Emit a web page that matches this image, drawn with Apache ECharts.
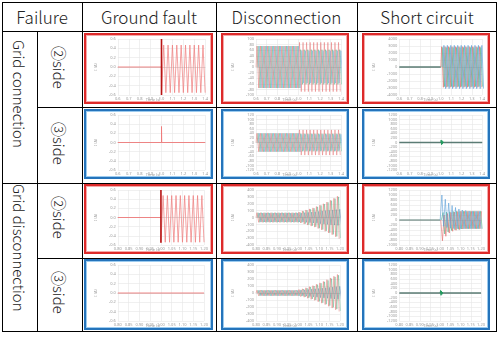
<!DOCTYPE html>
<html>
<head>
<meta charset="utf-8">
<script src="https://cdn.jsdelivr.net/npm/echarts@6/dist/echarts.min.js"></script>
<style>
body{margin:0;width:500px;height:353px;background:#fff;position:relative;overflow:hidden;font-family:"Noto Sans CJK JP","Noto Sans",sans-serif;font-weight:300;color:#222}
.ln{position:absolute;background:#000}
.frame{position:absolute;left:2px;top:2px;width:495px;height:330px;box-sizing:border-box;border:1.5px solid #000}
.hd{position:absolute;top:2px;height:29px;line-height:29px;text-align:center;font-size:17px;white-space:nowrap}
.vt{position:absolute;writing-mode:vertical-rl;text-orientation:sideways;white-space:nowrap;font-size:15px}
.side{position:absolute;left:37px;width:45px;line-height:45px;writing-mode:vertical-rl;text-orientation:sideways;text-align:center;font-size:15px;white-space:nowrap}
.box{position:absolute;box-sizing:border-box;border:2px solid;background:#fff}
.red{border-color:#dd2a2a;box-shadow:inset 0 0 0 1px #f5a9a9}
.blue{border-color:#2574bb;box-shadow:inset 0 0 0 1px #9ccbef}
.box .ch{position:absolute;left:0;top:0}
</style>
</head>
<body>
<div class="frame"></div>
<div class="ln" style="left:2px;top:31px;width:495px;height:1px"></div>
<div class="ln" style="left:37px;top:107px;width:460px;height:1px"></div>
<div class="ln" style="left:2px;top:183px;width:495px;height:1px"></div>
<div class="ln" style="left:37px;top:258px;width:460px;height:1px"></div>
<div class="ln" style="left:37px;top:31px;width:1px;height:301px"></div>
<div class="ln" style="left:82px;top:2px;width:1px;height:330px"></div>
<div class="ln" style="left:216px;top:2px;width:1px;height:330px"></div>
<div class="ln" style="left:357px;top:2px;width:1px;height:330px"></div>

<div class="hd" style="left:2px;width:80px">Failure</div>
<div class="hd" style="left:82px;width:134px">Ground fault</div>
<div class="hd" style="left:216px;width:141px">Disconnection</div>
<div class="hd" style="left:357px;width:140px">Short circuit</div>

<div class="vt" style="left:2px;width:35px;line-height:35px;top:40px">Grid connection</div>
<div class="vt" style="left:2px;width:35px;line-height:35px;top:184px">Grid disconnection</div>
<div class="side" style="top:29px;height:76px">②side</div>
<div class="side" style="top:105px;height:76px">③side</div>
<div class="side" style="top:180px;height:75px">②side</div>
<div class="side" style="top:255px;height:74px">③side</div>

<div id="cells"></div>

<script>
// ---------- tick labels ----------
var xTicksGC = [0.6, 0.7, 0.8, 0.9, 1.0, 1.1, 1.2, 1.3, 1.4];
var xTicksGD = [0.8, 0.85, 0.9, 0.95, 1.0, 1.05, 1.1, 1.15, 1.2];
var yTicksGround = [-0.6, -0.4, -0.2, 0, 0.2, 0.4, 0.6];
var yTicksDiscGC2 = [-100, -80, -60, -40, -20, 0, 20, 40, 60, 80, 100];
var yTicksDiscGC3 = [-120, -100, -80, -60, -40, -20, 0, 20, 40, 60, 80, 100, 120];
var yTicksDiscGD = [-400, -300, -200, -100, 0, 100, 200, 300, 400];
var yTicksShortGC2 = [-4000, -3000, -2000, -1000, 0, 1000, 2000, 3000, 4000];
var yTicksShort3 = [-1200, -1000, -800, -600, -400, -200, 0, 200, 400, 600, 800, 1000, 1200];
var yTicksShortGD2 = [-1000, -800, -600, -400, -200, 0, 200, 400, 600, 800, 1000, 1200];

// ---------- ground fault ----------
// grid connection, 2 side: flat, fault at 1.0 s, then peaks every 0.02 s
var gfGc2Flat = [[0.6, 0], [1.0, 0]];
var gfGc2Spike = [[1.0, 0], [1.0, 0.6], [1.0, -0.6]];
var gfGc2Peaks = [-0.6, 0.47, -0.55, 0.47, -0.55, 0.47, -0.55, 0.47, -0.55, 0.47, -0.55,
  0.47, -0.55, 0.47, -0.55, 0.47, -0.55, 0.47, -0.55, 0.47, -0.55];
// grid connection, 3 side: single spike
var gfGc3Line = [[0.6, 0], [1.0, 0], [1.0, 0.35], [1.002, 0], [1.4, 0]];
// grid disconnection, 2 side: peaks every 0.01 s after 1.0 s
var gfGd2Flat = [[0.8, 0], [1.0, 0]];
var gfGd2Spike = [[1.0, 0], [1.0, 0.6], [1.0, -0.55]];
var gfGd2Peaks = [-0.55, 0.48, -0.54, 0.48, -0.54, 0.48, -0.54, 0.48, -0.54, 0.48, -0.54,
  0.48, -0.54, 0.48, -0.54, 0.48, -0.54, 0.48, -0.54, 0.48, -0.54];
// grid disconnection, 3 side: flat
var gfGd3Line = [[0.8, 0], [1.2, 0]];

// ---------- disconnection (peak amplitude per cycle, 24 cycles) ----------
var discGc2Red   = [75,75,75,75,75,75,75,75,75,75,75,75, 88,88,88,88,88,88,88,88,88,88,88,88];
var discGc2Green = [75,75,75,75,75,75,75,75,75,75,75,75, 62,62,62,62,62,62,62,62,62,62,62,62];
var discGc2Blue  = [75,75,75,75,75,75,75,75,75,75,75,75, 58,58,58,58,58,58,58,58,58,58,58,58];
var discGc3Red   = [40,40,40,40,40,40,40,40,40,40,40,40, 55,55,55,55,55,55,55,55,55,55,55,55];
var discGc3Green = [40,40,40,40,40,40,40,40,40,40,40,40, 38,38,38,38,38,38,38,38,38,38,38,38];
var discGc3Blue  = [40,40,40,40,40,40,40,40,40,40,40,40, 36,36,36,36,36,36,36,36,36,36,36,36];
var discGd2Red   = [70,70,70,70,70,70,70,70,70,70,70,70, 80,95,110,125,140,160,180,200,225,250,280,310];
var discGd2Green = [70,70,70,70,70,70,70,70,70,70,70,70, 75,90,105,120,135,155,175,195,220,245,275,300];
var discGd2Blue  = [65,65,65,65,65,65,65,65,65,65,65,65, 65,70,75,80,85,90,95,100,105,110,115,120];
var discGd3Red   = [40,40,40,40,40,40,40,40,40,40,40,40, 50,60,75,90,105,125,145,165,190,215,240,265];
var discGd3Green = [40,40,40,40,40,40,40,40,40,40,40,40, 45,55,70,85,100,120,140,160,180,205,230,255];
var discGd3Blue  = [38,38,38,38,38,38,38,38,38,38,38,38, 40,45,50,55,60,65,70,75,80,85,90,95];

// ---------- short circuit ----------
var scGc2Flat = [[0.6, 0], [1.0, 0]];
var scGc2Red   = [2900,2900,2900,2900,2900,2900,2900,2900,2900,2900,2900,2900];
var scGc2Green = [2800,2800,2800,2800,2800,2800,2800,2800,2800,2800,2800,2800];
var scGc2Blue  = [3100,3100,3100,3100,3100,3100,3100,3100,3100,3100,3100,3100];
var scGc3Flat = [[0.6, 0], [1.4, 0]];
var scBlip = [0, 110, -100, 80, -60, 40, -20, 0];
var scGd2Flat = [[0.8, 0], [1.0, 0]];
// half-cycle peaks after the fault (every 1/120 s)
var scGd2Blue  = [0, 1000, -250, 830, -300, 680, -330, 580, -340, 500, -350, 440, -350, 400,
  -350, 380, -350, 360, -350, 350, -350, 350, -350, 350, -350];
var scGd2Red   = [0, -830, 200, -650, 260, -520, 300, -450, 320, -410, 340, -380, 350, -360,
  350, -350, 350, -350, 350, -350, 350, -350, 350, -350, 350];
var scGd2Green = [0, 300, -560, 320, -480, 330, -420, 340, -390, 350, -370, 350, -360, 350,
  -350, 350, -350, 350, -350, 350, -350, 350, -350, 350, -350];
var scGd3Flat = [[0.8, 0], [1.2, 0]];

// ---------- helpers ----------
function pts(t0, step, vals) {
  return vals.map(function (v, i) { return [t0 + i * step, v]; });
}
function cyc(t0, period, amps) {
  var out = [[t0, 0]];
  amps.forEach(function (a, i) {
    out.push([t0 + i * period + period / 4, a]);
    out.push([t0 + i * period + period * 3 / 4, -a]);
  });
  return out;
}

var RED = '#e46868', GREEN = '#4fb487', BLUE = '#5a9fd8', PINK = '#ef7b7b', DARKRED = '#b81414', FLAT = '#5b7c75';
var pGC = 0.4 / 12, pGD = 0.2 / 12;
var THIN = 0.45;

var cells = [
  // row 1: grid connection, 2 side
  {box: 'red', xs: xTicksGC, ys: yTicksGround, xd: 1, yd: 1, series: [
    {data: gfGc2Flat, color: PINK, width: 0.9},
    {data: pts(1.0, 0.02, gfGc2Peaks), color: PINK, width: 0.7},
    {data: gfGc2Spike, color: DARKRED, width: 1.6}]},
  {box: 'red', xs: xTicksGC, ys: yTicksDiscGC2, xd: 1, yd: 0, series: [
    {data: cyc(0.6 + 2 * pGC / 3, pGC, discGc2Blue), color: BLUE, width: THIN},
    {data: cyc(0.6 + pGC / 3, pGC, discGc2Green), color: GREEN, width: THIN},
    {data: cyc(0.6, pGC, discGc2Red), color: RED, width: THIN}]},
  {box: 'red', xs: xTicksGC, ys: yTicksShortGC2, xd: 1, yd: 0, series: [
    {data: scGc2Flat, color: FLAT, width: 1.3},
    {data: cyc(1.0, pGC, scGc2Red), color: RED},
    {data: cyc(1.0 + pGC / 3, pGC, scGc2Green), color: GREEN},
    {data: cyc(1.0 + 2 * pGC / 3, pGC, scGc2Blue), color: BLUE}]},
  // row 2: grid connection, 3 side
  {box: 'blue', xs: xTicksGC, ys: yTicksGround, xd: 1, yd: 1, series: [
    {data: gfGc3Line, color: PINK, width: 0.9}]},
  {box: 'blue', xs: xTicksGC, ys: yTicksDiscGC3, xd: 1, yd: 0, series: [
    {data: cyc(0.6 + 2 * pGC / 3, pGC, discGc3Blue), color: BLUE, width: THIN},
    {data: cyc(0.6 + pGC / 3, pGC, discGc3Green), color: GREEN, width: THIN},
    {data: cyc(0.6, pGC, discGc3Red), color: RED, width: THIN}]},
  {box: 'blue', xs: xTicksGC, ys: yTicksShort3, xd: 1, yd: 0, series: [
    {data: scGc3Flat, color: FLAT, width: 1.3},
    {data: pts(1.0, 0.004, scBlip), color: '#1f9a5c', width: 0.9}]},
  // row 3: grid disconnection, 2 side
  {box: 'red', xs: xTicksGD, ys: yTicksGround, xd: 2, yd: 1, series: [
    {data: gfGd2Flat, color: PINK, width: 0.9},
    {data: pts(1.0, 0.01, gfGd2Peaks), color: PINK, width: 0.7},
    {data: gfGd2Spike, color: DARKRED, width: 1.6}]},
  {box: 'red', xs: xTicksGD, ys: yTicksDiscGD, xd: 2, yd: 0, series: [
    {data: cyc(0.8 + 2 * pGD / 3, pGD, discGd2Blue), color: '#4f7fae', width: THIN},
    {data: cyc(0.8 + pGD / 3, pGD, discGd2Green), color: GREEN, width: THIN},
    {data: cyc(0.8, pGD, discGd2Red), color: RED, width: THIN}]},
  {box: 'red', xs: xTicksGD, ys: yTicksShortGD2, xd: 2, yd: 0, series: [
    {data: scGd2Flat, color: FLAT, width: 1.1},
    {data: pts(1.0 + pGD / 3, pGD / 2, scGd2Green), color: GREEN},
    {data: pts(1.0 + pGD / 6, pGD / 2, scGd2Red), color: RED},
    {data: pts(1.0, pGD / 2, scGd2Blue), color: BLUE}]},
  // row 4: grid disconnection, 3 side
  {box: 'blue', xs: xTicksGD, ys: yTicksGround, xd: 2, yd: 1, series: [
    {data: gfGd3Line, color: PINK, width: 0.9}]},
  {box: 'blue', xs: xTicksGD, ys: yTicksDiscGD, xd: 2, yd: 0, series: [
    {data: cyc(0.8 + 2 * pGD / 3, pGD, discGd3Blue), color: '#4f7fae', width: THIN},
    {data: cyc(0.8 + pGD / 3, pGD, discGd3Green), color: GREEN, width: THIN},
    {data: cyc(0.8, pGD, discGd3Red), color: RED, width: THIN}]},
  {box: 'blue', xs: xTicksGD, ys: yTicksShort3, xd: 2, yd: 0, series: [
    {data: scGd3Flat, color: FLAT, width: 1.3},
    {data: pts(1.0, 0.002, scBlip), color: '#1f9a5c', width: 0.9}]}
];

// layout of the boxes inside the table
var colX = [84, 221, 362], colW = [129, 128, 128];
var rowY = [33, 109, 184, 259], rowH = [71, 70, 70, 71];

function step(arr) { return +(arr[1] - arr[0]).toFixed(4); }

var holder = document.getElementById('cells');
cells.forEach(function (c, i) {
  var r = Math.floor(i / 3), k = i % 3;
  var box = document.createElement('div');
  box.className = 'box ' + c.box;
  box.style.left = colX[k] + 'px';
  box.style.top = rowY[r] + 'px';
  box.style.width = colW[k] + 'px';
  box.style.height = rowH[r] + 'px';
  var el = document.createElement('div');
  el.className = 'ch';
  var w = colW[k] - 4, h = rowH[r] - 4;
  el.style.width = w + 'px';
  el.style.height = h + 'px';
  box.appendChild(el);
  holder.appendChild(box);

  var lbl = {fontSize: 4, color: '#9c9c9c', fontFamily: 'Noto Sans'};
  var chart = echarts.init(el, null, {renderer: 'canvas'});
  chart.setOption({
    animation: false,
    grid: {left: 14, right: 5, top: 4, bottom: 7},
    title: {
      text: 'Time (s)', left: 14 + (w - 19) / 2, bottom: 0, textAlign: 'center', padding: 0,
      textStyle: {fontSize: 4, color: '#9c9c9c', fontWeight: 'normal', fontFamily: 'Noto Sans'}
    },
    xAxis: {
      type: 'value', min: c.xs[0], max: c.xs[c.xs.length - 1], interval: step(c.xs),
      axisLine: {onZero: true, lineStyle: {color: '#cfcfcf', width: 0.6}},
      axisTick: {show: false},
      axisLabel: Object.assign({margin: 2, formatter: function (v) { return v.toFixed(c.xd); }}, lbl),
      splitLine: {lineStyle: {color: '#e6e6e6', width: 0.6}}
    },
    yAxis: {
      type: 'value', min: c.ys[0], max: c.ys[c.ys.length - 1], interval: step(c.ys),
      name: 'I (A)', nameLocation: 'middle', nameGap: 10, nameRotate: 90,
      nameTextStyle: lbl,
      axisLine: {show: false},
      axisTick: {show: false},
      axisLabel: Object.assign({margin: 2, formatter: function (v) { return v.toFixed(c.yd); }}, lbl),
      splitLine: {lineStyle: {color: '#e6e6e6', width: 0.6}}
    },
    series: c.series.map(function (s) {
      return {
        type: 'line', data: s.data, symbol: 'none', silent: true,
        lineStyle: {color: s.color, width: s.width || 0.6}
      };
    })
  });
});
</script>
</body>
</html>
